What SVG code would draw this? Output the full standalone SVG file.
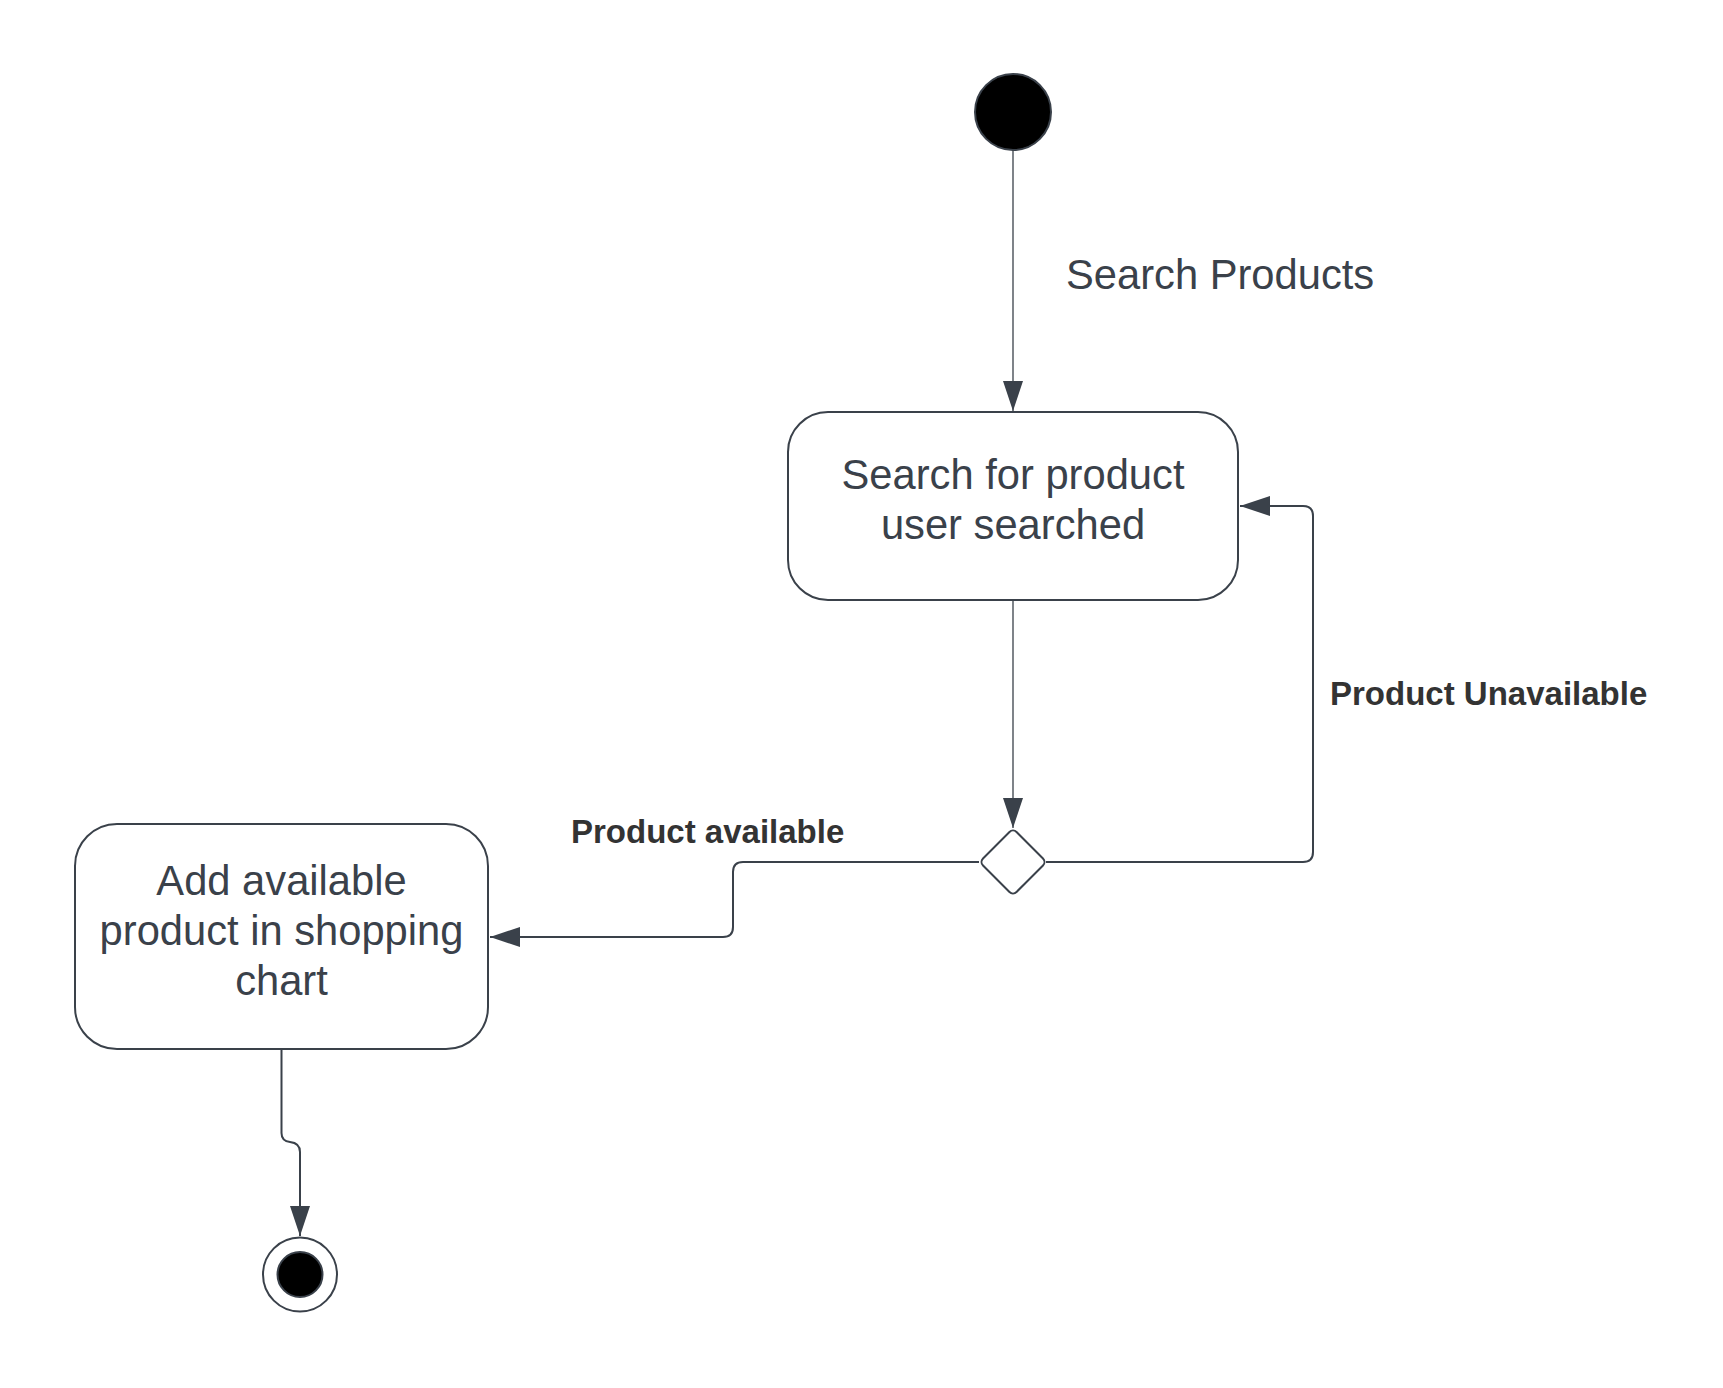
<svg xmlns="http://www.w3.org/2000/svg" width="1723" height="1388" viewBox="0 0 1723 1388">
<style>
.node{fill:#ffffff;stroke:#3a414a;stroke-width:2}
.txt{font-family:"Liberation Sans",Arial,sans-serif;font-size:41.7px;fill:#3a414a;text-anchor:middle}
.lbl{font-family:"Liberation Sans",Arial,sans-serif;font-size:33px;font-weight:bold;fill:#333333}
.plain{font-family:"Liberation Sans",Arial,sans-serif;font-size:41.7px;fill:#3a414a}
.conn{fill:none;stroke:#3a414a;stroke-width:2}
.thin{fill:none;stroke:#3a414a;stroke-width:1.3}
</style>
<defs>
<marker id="arrow" markerUnits="userSpaceOnUse" markerWidth="32" markerHeight="22" refX="30" refY="10" orient="auto">
<path d="M0,0 L30,10 L0,20 Z" fill="#3a414a"/>
</marker>
</defs>
<rect width="1723" height="1388" fill="#ffffff"/>
<g id="connectors">
<path class="thin" d="M1013,150 L1013,411" marker-end="url(#arrow)"/>
<path class="thin" d="M1013,600 L1013,828" marker-end="url(#arrow)"/>
<path class="conn" d="M979,862 L743,862 Q733,862 733,872 L733,927 Q733,937 723,937 L490,937" marker-end="url(#arrow)"/>
<path class="conn" d="M1046,862 L1303,862 Q1313,862 1313,852 L1313,516 Q1313,506 1303,506 L1240,506" marker-end="url(#arrow)"/>
<path class="conn" d="M281.5,1050 L281.5,1133 Q281.5,1141 290,1142 Q300,1143 300,1152 L300,1236" marker-end="url(#arrow)"/>
<text class="plain" x="1066" y="289">Search Products</text>
<text class="lbl" x="1330" y="705">Product Unavailable</text>
<text class="lbl" x="571" y="843">Product available</text>
</g>
<g id="start">
<circle cx="1013" cy="112" r="38" fill="#000000" stroke="#3a414a" stroke-width="2"/>
</g>
<g id="search-box">
<rect class="node" x="788" y="412" width="450" height="188" rx="40" ry="40"/>
<text class="txt" x="1013" y="489">Search for product</text>
<text class="txt" x="1013" y="539">user searched</text>
</g>
<g id="decision">
<rect class="node" x="989.3" y="838.3" width="47.4" height="47.4" rx="5" ry="5" transform="rotate(45 1013 862)"/>
</g>
<g id="add-box">
<rect class="node" x="75" y="824" width="413" height="225" rx="42" ry="42"/>
<text class="txt" x="281.5" y="895">Add available</text>
<text class="txt" x="281.5" y="945">product in shopping</text>
<text class="txt" x="281.5" y="995">chart</text>
</g>
<g id="end">
<circle cx="300" cy="1274.5" r="37" fill="#ffffff" stroke="#3a414a" stroke-width="2"/>
<circle cx="300" cy="1274.5" r="22.5" fill="#000000" stroke="#3a414a" stroke-width="2"/>
</g>
</svg>
